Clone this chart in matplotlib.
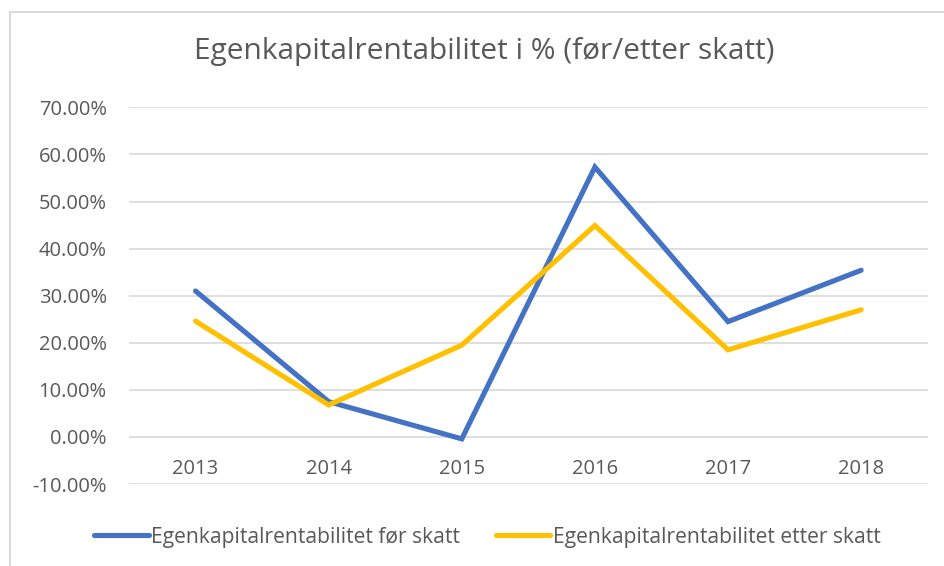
import matplotlib.pyplot as plt
from matplotlib.lines import Line2D
from matplotlib.ticker import FuncFormatter

# data
years = ["2013", "2014", "2015", "2016", "2017", "2018"]
ek_for_skatt = [31.0, 7.5, -0.4, 57.3, 24.5, 35.4]
ek_etter_skatt = [24.6, 6.8, 19.5, 44.9, 18.5, 27.0]
y_ticks = [-10, 0, 10, 20, 30, 40, 50, 60, 70]

title = "Egenkapitalrentabilitet i % (før/etter skatt)"
label_for = "Egenkapitalrentabilitet før skatt"
label_etter = "Egenkapitalrentabilitet etter skatt"

BLUE = "#4472C4"
YELLOW = "#FFC000"
TEXT = "#595959"
GRID = "#D9D9D9"

plt.rcParams['font.family'] = ['Open Sans', 'DejaVu Sans']

W, H = 944, 566
fig = plt.figure(figsize=(W / 100, H / 100), dpi=100)
ax = fig.add_axes([129 / W, 1 - 484.1 / H, (927.7 - 129) / W, (484.1 - 107.3) / H])

x = list(range(len(years)))
ax.plot(x, ek_for_skatt, color=BLUE, lw=3.7, solid_capstyle='round',
        solid_joinstyle='miter', label=label_for, zorder=3)
ax.plot(x, ek_etter_skatt, color=YELLOW, lw=3.7, solid_capstyle='round',
        solid_joinstyle='miter', label=label_etter, zorder=3)

ax.set_xlim(-0.5, len(years) - 0.5)
ax.set_ylim(-10, 70)
ax.set_yticks(y_ticks)
ax.yaxis.set_major_formatter(FuncFormatter(lambda v, p: f"{v:.2f}%"))
ax.grid(True, axis='y', color=GRID, lw=1.2)
ax.set_axisbelow(True)
for s in ax.spines.values():
    s.set_visible(False)
ax.tick_params(axis='both', length=0, labelsize=14.5, labelcolor=TEXT)
ax.tick_params(axis='y', pad=16)

# category labels sit just below the zero line, like in Excel
ax.set_xticks([])
for i, yr in enumerate(years):
    ax.text(i, -6.7, yr, ha='center', va='center', fontsize=14.5, color=TEXT)

fig.text(484 / W, 1 - 52 / H, title, ha='center', va='center',
         fontsize=21.5, color=TEXT)

ax.legend(loc='center', bbox_to_anchor=(487 / W, 1 - 537 / H),
          bbox_transform=fig.transFigure, ncol=2, frameon=False,
          fontsize=15.2, labelcolor=TEXT, handlelength=2.6,
          handletextpad=0.1, columnspacing=1.7)

# chart border (cropped at right and bottom)
fig.add_artist(Line2D([10 / W, 10 / W, 1], [0, 1 - 12 / H, 1 - 12 / H],
                      color=GRID, lw=1.5, transform=fig.transFigure))

fig.savefig("out.png", dpi=100)
